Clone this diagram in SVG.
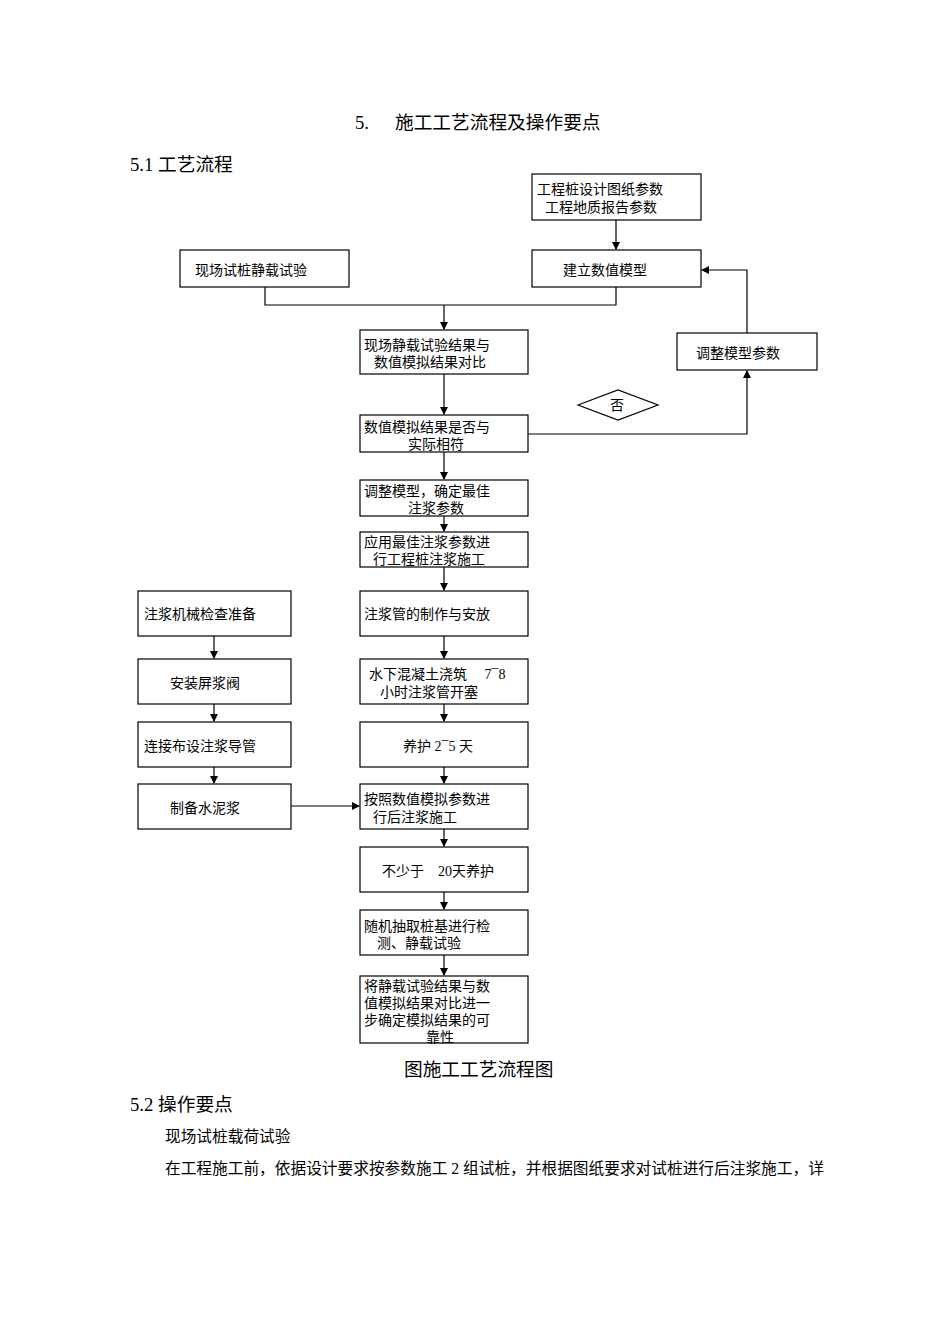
<svg xmlns="http://www.w3.org/2000/svg" width="950" height="1318" viewBox="0 0 950 1318">
<style>
.b{fill:#fff;stroke:#000;stroke-width:1.2}
.t{font-family:"Liberation Serif","Noto Sans CJK SC",serif;font-size:14px;fill:#000}
.h{font-family:"Liberation Serif","Noto Sans CJK SC",serif;font-size:18.7px;fill:#000}
.p{font-family:"Liberation Serif","Noto Sans CJK SC",serif;font-size:15.7px;fill:#000}
.c path,.c polyline{fill:none;stroke:#000;stroke-width:1.2}
</style>
<defs><marker id="a" markerWidth="8" markerHeight="8" refX="7" refY="4" orient="auto" markerUnits="userSpaceOnUse"><path d="M0,0 L8,4 L0,8 Z" fill="#000"/></marker></defs>
<rect width="950" height="1318" fill="#fff"/>
<text class="h" x="355" y="129">5.</text><text class="h" x="395" y="129">施工工艺流程及操作要点</text>
<text class="h" x="130" y="171">5.1 工艺流程</text>
<g class="c">
<path d="M616,220 V249" marker-end="url(#a)"/>
<polyline points="265,287 265,305 616,305 616,287"/>
<path d="M444,305 V329" marker-end="url(#a)"/>
<path d="M444,374 V414" marker-end="url(#a)"/>
<polyline points="528,434 747,434 747,371" marker-end="url(#a)"/>
<polyline points="747,333 747,270 702,270" marker-end="url(#a)"/>
<path d="M444,452 V479" marker-end="url(#a)"/>
<path d="M444,516 V531" marker-end="url(#a)"/>
<path d="M444,567 V590" marker-end="url(#a)"/>
<path d="M444,636 V658" marker-end="url(#a)"/>
<path d="M444,704 V721" marker-end="url(#a)"/>
<path d="M444,767 V783" marker-end="url(#a)"/>
<path d="M444,829 V846" marker-end="url(#a)"/>
<path d="M444,892 V909" marker-end="url(#a)"/>
<path d="M444,955 V975" marker-end="url(#a)"/>
<path d="M214,636 V658" marker-end="url(#a)"/>
<path d="M214,704 V721" marker-end="url(#a)"/>
<path d="M214,767 V783" marker-end="url(#a)"/>
<path d="M291,806 H359" marker-end="url(#a)"/>
</g>
<g id="n1"><rect class="b" x="532" y="174" width="169" height="46"/><text class="t" x="537" y="194">工程桩设计图纸参数</text><text class="t" x="545" y="212">工程地质报告参数</text></g>
<g id="n2"><rect class="b" x="180" y="250" width="169" height="37"/><text class="t" x="195" y="275">现场试桩静载试验</text></g>
<g id="n3"><rect class="b" x="532" y="250" width="169" height="37"/><text class="t" x="563" y="275">建立数值模型</text></g>
<g id="n4"><rect class="b" x="360" y="330" width="168" height="44"/><text class="t" x="364" y="350">现场静载试验结果与</text><text class="t" x="374" y="367">数值模拟结果对比</text></g>
<g id="n5"><polygon class="b" points="578,405 618,390 658,405 618,420"/><text class="t" x="610" y="410">否</text></g>
<g id="n6"><rect class="b" x="677" y="333" width="140" height="37"/><text class="t" x="696" y="358">调整模型参数</text></g>
<g id="n7"><rect class="b" x="360" y="415" width="168" height="37"/><text class="t" x="364" y="432">数值模拟结果是否与</text><text class="t" x="408" y="449">实际相符</text></g>
<g id="n8"><rect class="b" x="360" y="480" width="168" height="36"/><text class="t" x="364" y="496">调整模型，确定最佳</text><text class="t" x="408" y="513">注浆参数</text></g>
<g id="n9"><rect class="b" x="360" y="532" width="168" height="35"/><text class="t" x="364" y="547">应用最佳注浆参数进</text><text class="t" x="373" y="564">行工程桩注浆施工</text></g>
<g id="n10"><rect class="b" x="360" y="591" width="168" height="45"/><text class="t" x="364" y="619">注浆管的制作与安放</text></g>
<g id="n11"><rect class="b" x="360" y="659" width="168" height="45"/><text class="t" x="369" y="679">水下混凝土浇筑　 7¯8</text><text class="t" x="380" y="697">小时注浆管开塞</text></g>
<g id="n12"><rect class="b" x="360" y="722" width="168" height="45"/><text class="t" x="403" y="751">养护 2¯5 天</text></g>
<g id="n13"><rect class="b" x="360" y="784" width="168" height="45"/><text class="t" x="364" y="804">按照数值模拟参数进</text><text class="t" x="373" y="822">行后注浆施工</text></g>
<g id="n14"><rect class="b" x="360" y="847" width="168" height="45"/><text class="t" x="382" y="876">不少于　20天养护</text></g>
<g id="n15"><rect class="b" x="360" y="910" width="168" height="45"/><text class="t" x="364" y="931">随机抽取桩基进行检</text><text class="t" x="377" y="948">测、静载试验</text></g>
<g id="n16"><rect class="b" x="360" y="976" width="168" height="67"/><text class="t" x="364" y="991">将静载试验结果与数</text><text class="t" x="364" y="1008">值模拟结果对比进一</text><text class="t" x="364" y="1025">步确定模拟结果的可</text><text class="t" x="426" y="1042">靠性</text></g>
<g id="n17"><rect class="b" x="138" y="591" width="153" height="45"/><text class="t" x="144" y="619">注浆机械检查准备</text></g>
<g id="n18"><rect class="b" x="138" y="659" width="153" height="45"/><text class="t" x="170" y="688">安装屏浆阀</text></g>
<g id="n19"><rect class="b" x="138" y="722" width="153" height="45"/><text class="t" x="144" y="751">连接布设注浆导管</text></g>
<g id="n20"><rect class="b" x="138" y="784" width="153" height="45"/><text class="t" x="170" y="813">制备水泥浆</text></g>
<text class="h" x="404" y="1076">图施工工艺流程图</text>
<text class="h" x="130" y="1111">5.2 操作要点</text>
<text class="p" x="165" y="1142">现场试桩载荷试验</text>
<text class="p" x="165" y="1174">在工程施工前，依据设计要求按参数施工 2 组试桩，并根据图纸要求对试桩进行后注浆施工，详</text>
</svg>
